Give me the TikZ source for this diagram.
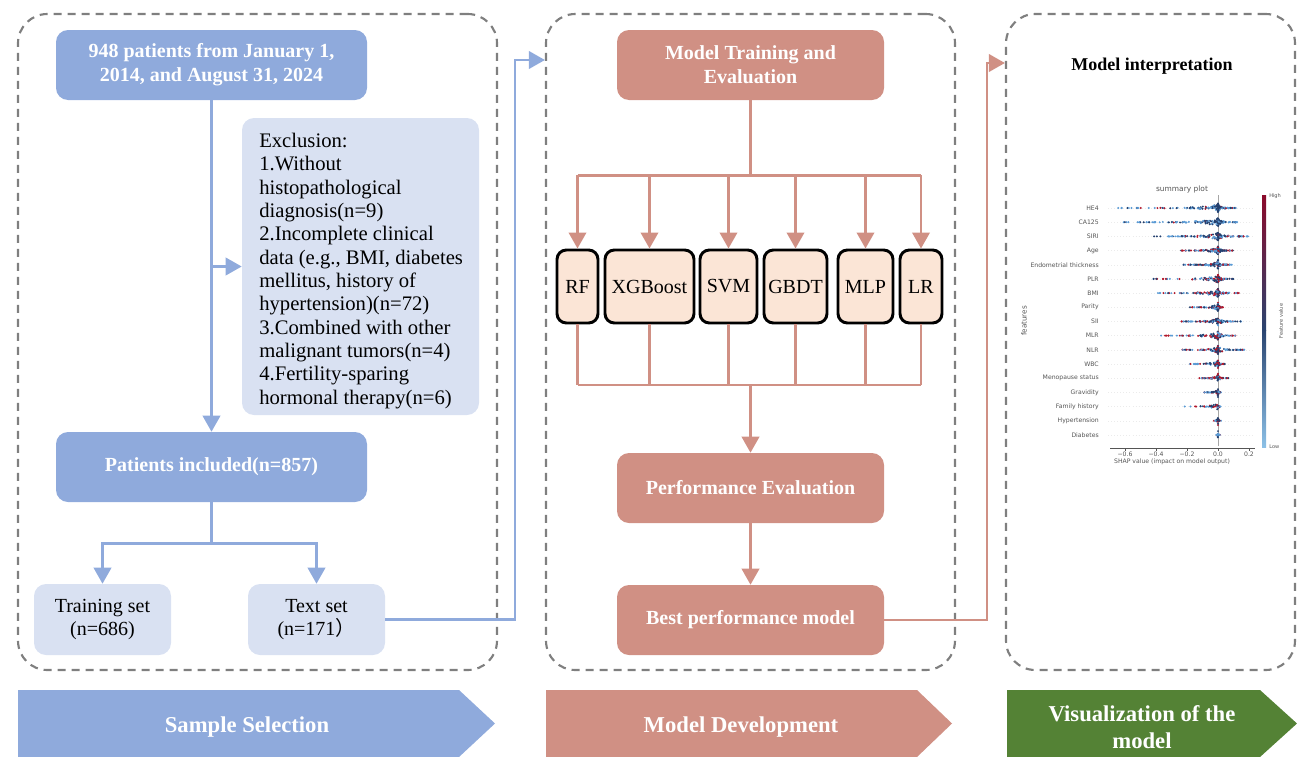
\documentclass[tikz,border=0pt]{standalone}
\usepackage{fontspec}
\setmainfont{Liberation Serif}
\newfontfamily\plotfont{DejaVu Sans}
\newfontfamily\cjkfont{Noto Sans CJK SC}
\usetikzlibrary{arrows.meta}
\definecolor{bmain}{HTML}{8FAADC}
\definecolor{blight}{HTML}{D9E1F2}
\definecolor{salmon}{HTML}{D09084}
\definecolor{peach}{HTML}{FBE5D6}
\definecolor{vgreen}{HTML}{548235}
\definecolor{dgrey}{HTML}{7F7F7F}
\definecolor{pgray}{HTML}{555555}
\definecolor{shapnavy}{HTML}{24406E}
\definecolor{shaplight}{HTML}{5B9BD5}
\definecolor{shapred}{HTML}{B2182B}
\definecolor{cblow}{HTML}{8CC0E6}
\definecolor{cbnavy}{HTML}{2A4470}
\definecolor{cbpink}{HTML}{DA8C95}
\definecolor{cbhigh}{HTML}{8B0A2A}
\newcommand\shaprow[5]{%
  \foreach \k in {1,...,#4}{%
    \pgfmathsetmacro\shU{rnd}%
    \pgfmathsetmacro\shS{rnd}%
    \pgfmathsetmacro\shX{\shS<0.6 ? -(#2)*\shU^2.4 : (#3)*\shU^2.4}%
    \pgfmathsetmacro\shY{(rnd-0.5)*10*(1-\shU)^2}%
    \pgfmathtruncatemacro\shC{rnd<#5 ? 2 : (rnd<(0.15+0.6*\shU) ? 1 : 0)}%
    \ifcase\shC \def\shCol{shapnavy}\or \def\shCol{shaplight}\or \def\shCol{shapred}\fi
    \fill[\shCol] (1218+\shX, #1+\shY) circle[radius=1.1];
  }}
\begin{document}
\begin{tikzpicture}[x=0.75pt,y=-0.75pt,
  wh/.style 2 args={minimum width=#1*0.75pt, minimum height=#2*0.75pt},
  bluebox/.style={rectangle, rounded corners=9pt, fill=bmain, text=white, inner sep=0pt,
    font=\bfseries\fontsize{15}{18}\selectfont, align=center},
  lightbox/.style={rectangle, rounded corners=9pt, fill=blight, inner sep=0pt,
    font=\fontsize{15}{17.5}\selectfont, align=center},
  salbox/.style={rectangle, rounded corners=9pt, fill=salmon, text=white, inner sep=0pt,
    font=\bfseries\fontsize{15}{18}\selectfont, align=center},
  modelbox/.style={rectangle, draw=black, line width=2.2pt, fill=peach, rounded corners=7pt,
    inner sep=0pt, font=\fontsize{15}{18}\selectfont},
  container/.style={rectangle, draw=dgrey, dash pattern=on 6pt off 4.5pt, line width=1.6pt,
    rounded corners=22pt},
  bline/.style={draw=bmain, line width=2pt},
  barrow/.style={bline, -{Triangle[width=13pt,length=12pt]}},
  sline/.style={draw=salmon, line width=2pt},
  sarrow/.style={sline, -{Triangle[width=13pt,length=12pt]}},
  chevtext/.style={text=white, font=\bfseries\fontsize{17}{20}\selectfont, align=center},
  flabel/.style={anchor=east, inner sep=0pt, text=pgray, font=\plotfont\fontsize{4.6}{5}\selectfont},
  plabel/.style={inner sep=0pt, text=pgray, font=\plotfont\fontsize{4.6}{5}\selectfont},
  guide/.style={draw=black!8, line width=0.3pt, dotted}
]
\useasboundingbox (0,0) rectangle (1297,757);

% containers
\node[container, wh={479}{656}] (c1) at (257.5,342) {};
\node[container, wh={409}{656}] (c2) at (750.5,342) {};
\node[container, wh={289}{656}] (c3) at (1150.5,342) {};

% sample selection
\node[bluebox, wh={311}{70}] (top1) at (211.5,65) {948 patients from January 1,\\2014, and August 31, 2024};
\node[lightbox, wh={237}{297}] (excl) at (360.5,266.5) {};
\node[anchor=north west, align=left, inner sep=0pt, font=\fontsize{15.5}{17.5}\selectfont] (excltext) at (259,133)
  {Exclusion:\\1.Without\\histopathological\\diagnosis(n=9)\\2.Incomplete clinical\\data (e.g., BMI, diabetes\\mellitus, history of\\hypertension)(n=72)\\3.Combined with other\\malignant tumors(n=4)\\4.Fertility-sparing\\hormonal therapy(n=6)};
\node[bluebox, wh={311}{70}] (incl) at (211.5,467) {Patients included(n=857)};
\node[lightbox, wh={137}{71}] (train) at (102.5,619.5) {Training set\\(n=686)};
\node[lightbox, wh={137}{71}] (test) at (316.5,619.5) {Text set\\(n=171{\cjkfont ）}};

\draw[barrow] (top1) -- (incl);
\draw[barrow] (top1.south |- excl.west) -- (excl.west);
\draw[bline] (incl.south) -- ++(0,41) coordinate (s1);
\draw[barrow] (s1) -| (train.north);
\draw[barrow] (s1) -| (test.north);
\coordinate (j1) at (515,60);
\draw[barrow] (test.east) -| (j1) -- (c2.west |- j1);

% model development
\node[salbox, wh={267}{70}] (mte) at (750.5,65) {Model Training and\\Evaluation};
\node[modelbox, wh={41}{73}] (RF) at (577.5,286.5) {RF};
\node[modelbox, wh={89}{73}] (XGB) at (649.5,286.5) {XGBoost};
\node[modelbox, wh={57}{73}] (SVM) at (728.5,286.5) {SVM};
\node[modelbox, wh={63}{73}] (GBDT) at (795.5,286.5) {GBDT};
\node[modelbox, wh={55}{73}] (MLP) at (865.5,286.5) {MLP};
\node[modelbox, wh={42}{73}] (LR) at (921,286.5) {LR};
\node[salbox, wh={267}{70}] (perf) at (750.5,488) {Performance Evaluation};
\node[salbox, wh={267}{70}] (best) at (750.5,620) {Best performance model};

\draw[sline] (mte.south) -- ++(0,75) coordinate (split1);
\draw[sline] (RF.north |- split1) -- (LR.north |- split1);
\foreach \m in {RF,XGB,SVM,GBDT,MLP,LR}{
  \draw[sarrow] (\m.north |- split1) -- (\m.north);
  \draw[sline] (\m.south) -- (\m.south |- 0,385);
}
\coordinate (join1) at (mte.south |- 0,385);
\draw[sline] (RF.south |- join1) -- (LR.south |- join1);
\draw[sarrow] (join1) -- (perf.north);
\draw[sarrow] (perf) -- (best);
\coordinate (j2) at (987,63);
\draw[sarrow] (best.east) -| (j2) -- (c3.west |- j2);

% interpretation
\node[font=\bfseries\fontsize{13.5}{16}\selectfont] (mi) at (1152,66) {Model interpretation};
\node[plabel, font=\plotfont\fontsize{5.6}{6}\selectfont] (ptitle) at (1182,189) {summary plot};
\draw[black!35, line width=0.5pt] (1218,195) -- (1218,446);
\pgfmathsetseed{11}
\foreach \nm/\l/\r/\n/\rf [count=\i] in {HE4/100/18/150/0.05, CA125/97/20/150/0.05, SIRI/65/30/130/0.22,
  Age/38/15/130/0.3, Endometrial thickness/35/14/120/0.2, PLR/68/17/120/0.35, BMI/66/22/120/0.4,
  Parity/28/6/90/0.2, SII/38/24/110/0.15, MLR/57/18/110/0.3, NLR/38/32/110/0.3, WBC/29/7/80/0.35,
  Menopause status/19/11/70/0.3, Gravidity/14/4/60/0.35, Family history/35/3/45/0.4,
  Hypertension/5/3/35/0.4, Diabetes/2/2/25/0.1}{
  \pgfmathsetmacro\yy{208+14.18*(\i-1)}
  \draw[guide] (1108,\yy) -- (1255,\yy);
  \node[flabel] (feat\i) at (1099,\yy) {\nm};
  \shaprow{\yy}{\l}{\r}{\n}{\rf}
}
\draw[pgray, line width=0.4pt] (1110,448) -- (1255,448);
\foreach \v/\t [count=\j] in {-0.6/{−0.6}, -0.4/{−0.4}, -0.2/{−0.2}, 0/{0.0}, 0.2/{0.2}}{
  \draw[pgray, line width=0.4pt] ({1218+155*\v},448) -- ({1218+155*\v},450.5);
  \node[plabel] (tick\j) at ({1218+155*\v},454.5) {\t};
}
\node[plabel] (xlab) at (1172,461.5) {SHAP value (impact on model output)};
\node[plabel, rotate=90, font=\plotfont\fontsize{5.4}{6}\selectfont] (ylab) at (1024,321) {features};
\shade[bottom color=cblow, top color=cbnavy] (1262,447) rectangle (1266,330);
\shade[bottom color=cbnavy, middle color=cbpink, top color=cbhigh] (1262,330.5) rectangle (1266,195);
\node[plabel, anchor=west, font=\plotfont\fontsize{3.8}{4}\selectfont] (hi) at (1269,196) {High};
\node[plabel, anchor=west, font=\plotfont\fontsize{3.8}{4}\selectfont] (lo) at (1269,447) {Low};
\node[plabel, rotate=90, font=\plotfont\fontsize{3.8}{4}\selectfont] (fv) at (1281,321) {Feature value};

% bottom chevrons
\fill[bmain] (18,690) -- (459,690) -- (495,723.5) -- (459,757) -- (18,757) -- cycle;
\fill[salmon] (546,690) -- (917,690) -- (952,723.5) -- (917,757) -- (546,757) -- cycle;
\fill[vgreen] (1007,690) -- (1260,690) -- (1297,723.5) -- (1260,757) -- (1007,757) -- cycle;
\node[chevtext] (lab1) at (247,727) {Sample Selection};
\node[chevtext] (lab2) at (741,727) {Model Development};
\node[chevtext] (lab3) at (1142,727) {Visualization of the\\model};
\end{tikzpicture}
\end{document}
